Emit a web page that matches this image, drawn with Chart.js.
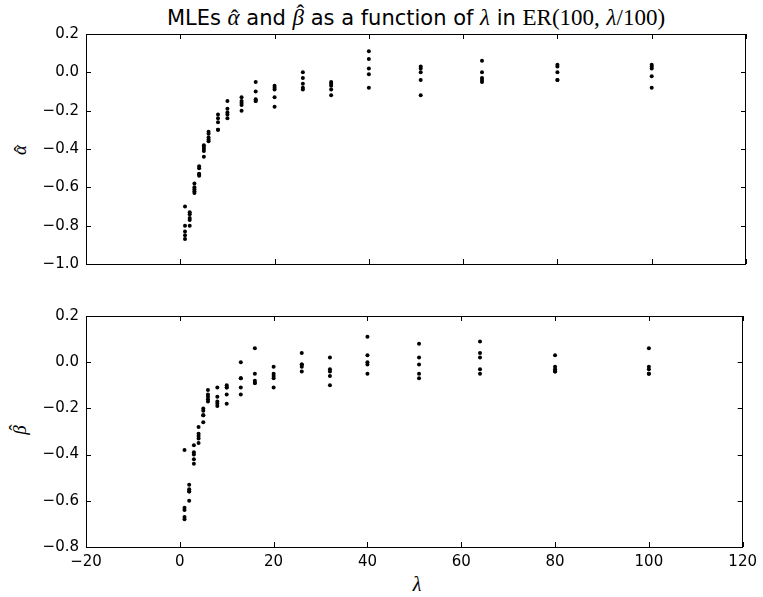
<!DOCTYPE html>
<html><head><meta charset="utf-8">
<script src="https://cdn.jsdelivr.net/npm/chart.js@4/dist/chart.umd.min.js"></script>
<style>
html,body{margin:0;padding:0;background:#fff;}
#wrap{position:relative;width:763px;height:597px;overflow:hidden;}
canvas{position:absolute;left:0;}
#title{position:absolute;top:5px;left:86px;width:660px;text-align:center;font-family:'DejaVu Sans';font-size:21px;line-height:25px;color:#000;white-space:nowrap;}
.m{font-family:'Liberation Serif';font-style:italic;font-size:23px;}
.r{font-family:'Liberation Serif';font-size:23px;}
.hat{position:relative;display:inline-block;}
.hat .c{position:absolute;left:0;right:0;text-align:center;font-style:normal;}
.ylab{position:absolute;width:40px;height:24px;line-height:24px;text-align:center;transform:rotate(-90deg);font-family:'Liberation Serif';font-style:italic;font-size:19px;color:#000;}
#xlab{position:absolute;left:397px;top:572px;width:40px;text-align:center;font-family:'Liberation Serif';font-style:italic;font-size:20px;line-height:24px;color:#000;}
</style></head><body>
<div id="wrap">
<div id="title">MLEs <span class="m hat">α<span class="c" style="top:1px;left:2px">ˆ</span></span> and <span class="m hat">β<span class="c" style="top:-4px;left:4px">ˆ</span></span> as a function of <span class="m">λ</span> in <span class="r">ER(100,</span> <span class="m">λ</span><span class="r">/100)</span></div>
<div class="ylab" style="left:0px;top:138px"><span class="hat">α<span class="c" style="top:1px;left:2px">ˆ</span></span></div>
<div class="ylab" style="left:0px;top:418px"><span class="hat">β<span class="c" style="top:-4px;left:4px">ˆ</span></span></div>
<div id="xlab">λ</div>
<canvas id="c1" width="763" height="280" style="top:0"></canvas>
<canvas id="c2" width="763" height="297" style="top:300px"></canvas>
</div>
<script>
const lambdaValues = [1, 2, 3, 4, 5, 6, 8, 10, 13, 16, 20, 26, 32, 40, 51, 64, 80, 100];
const alphaEstimates = [
  [-0.70, -0.80, -0.83, -0.85, -0.87],
  [-0.73, -0.74, -0.76, -0.77, -0.80],
  [-0.58, -0.60, -0.61, -0.62, -0.63],
  [-0.49, -0.50, -0.53, -0.53, -0.54],
  [-0.38, -0.39, -0.40, -0.41, -0.44],
  [-0.31, -0.32, -0.34, -0.35, -0.36],
  [-0.22, -0.24, -0.26, -0.30, -0.30],
  [-0.15, -0.19, -0.21, -0.22, -0.24],
  [-0.13, -0.15, -0.16, -0.17, -0.20],
  [-0.05, -0.10, -0.14, -0.15, -0.15],
  [-0.07, -0.08, -0.09, -0.13, -0.18],
  [0.00, -0.03, -0.06, -0.08, -0.09],
  [-0.05, -0.06, -0.07, -0.09, -0.12],
  [0.11, 0.07, 0.02, -0.01, -0.08],
  [0.03, 0.02, 0.00, -0.04, -0.12],
  [0.06, 0.00, -0.03, -0.04, -0.05],
  [0.04, 0.03, 0.00, -0.04, -0.04],
  [0.04, 0.03, 0.02, -0.02, -0.08]
];
const betaEstimates = [
  [-0.38, -0.63, -0.64, -0.67, -0.68],
  [-0.53, -0.55, -0.56, -0.56, -0.60],
  [-0.36, -0.39, -0.40, -0.42, -0.44],
  [-0.28, -0.31, -0.32, -0.33, -0.35],
  [-0.20, -0.21, -0.23, -0.23, -0.26],
  [-0.12, -0.14, -0.15, -0.16, -0.17],
  [-0.11, -0.15, -0.17, -0.18, -0.19],
  [-0.10, -0.11, -0.11, -0.14, -0.18],
  [0.00, -0.07, -0.07, -0.11, -0.14],
  [0.06, -0.05, -0.08, -0.09, -0.09],
  [-0.02, -0.05, -0.06, -0.07, -0.11],
  [0.04, -0.01, -0.01, -0.02, -0.04],
  [0.02, -0.03, -0.04, -0.06, -0.10],
  [0.11, 0.03, 0.00, -0.01, -0.05],
  [0.08, 0.02, -0.01, -0.05, -0.07],
  [0.09, 0.04, 0.02, -0.03, -0.05],
  [0.03, -0.02, -0.03, -0.04, -0.04],
  [0.06, -0.02, -0.03, -0.05, -0.05]
];
const xTicks = [-20, 0, 20, 40, 60, 80, 100, 120];

function toPoints(vals){
  const pts = [];
  lambdaValues.forEach((l, i) => vals[i].forEach(v => pts.push({x: l, y: v})));
  return pts;
}
function fmt(v, d){
  if (Math.abs(v) < 1e-9) return (0).toFixed(d);
  return (v < 0 ? '\u2212' : '') + Math.abs(v).toFixed(d);
}
const frameTicks = {
  id: 'frameTicks',
  afterDraw(chart){
    const {ctx, chartArea: a, scales: {x, y}} = chart;
    const L = 5;
    ctx.save();
    ctx.strokeStyle = '#000';
    ctx.lineWidth = 1;
    ctx.beginPath();
    x.ticks.forEach(t => {
      const px = Math.round(x.getPixelForValue(t.value)) + 0.5;
      ctx.moveTo(px, a.bottom); ctx.lineTo(px, a.bottom - L);
      ctx.moveTo(px, a.top); ctx.lineTo(px, a.top + L);
    });
    y.ticks.forEach(t => {
      const py = Math.round(y.getPixelForValue(t.value)) + 0.5;
      ctx.moveTo(a.left, py); ctx.lineTo(a.left + L, py);
      ctx.moveTo(a.right, py); ctx.lineTo(a.right - L, py);
    });
    ctx.stroke();
    ctx.strokeRect(Math.round(a.left) + 0.5, Math.round(a.top) + 0.5,
      Math.round(a.right - a.left) - 1, Math.round(a.bottom - a.top));
    ctx.restore();
  }
};
const tickFont = {family: 'DejaVu Sans', size: 15};
function makeChart(id, vals, yMin, yMax, showX, pad, xHeight){
  return new Chart(document.getElementById(id), {
    type: 'scatter',
    data: {datasets: [{data: toPoints(vals), backgroundColor: '#000', borderColor: '#000',
      pointRadius: 2, pointHoverRadius: 2, borderWidth: 0}]},
    options: {
      responsive: false, animation: false,
      layout: {padding: pad},
      plugins: {legend: {display: false}, tooltip: {enabled: false}},
      scales: {
        x: {
          type: 'linear', min: -20, max: 120,
          afterBuildTicks: s => { s.ticks = xTicks.map(v => ({value: v})); },
          afterFit: s => { s.height = xHeight; },
          grid: {display: false, drawTicks: false},
          border: {display: false},
          ticks: {display: showX, font: tickFont, color: '#000', padding: 6,
            callback: v => fmt(v, 0), maxRotation: 0}
        },
        y: {
          type: 'linear', min: yMin, max: yMax,
          ticks: {stepSize: 0.2, font: tickFont, color: '#000', padding: 7,
            callback: v => fmt(v, 1)},
          afterFit: s => { s.width = 86; },
          grid: {display: false, drawTicks: false},
          border: {display: false}
        }
      }
    },
    plugins: [frameTicks]
  });
}
makeChart('c1', alphaEstimates, -1.0, 0.2, false, {left: 0, right: 17, top: 34, bottom: 0}, 13);
makeChart('c2', betaEstimates, -0.8, 0.2, true, {left: 0, right: 17, top: 14, bottom: 0}, 50);
</script>
</body></html>
